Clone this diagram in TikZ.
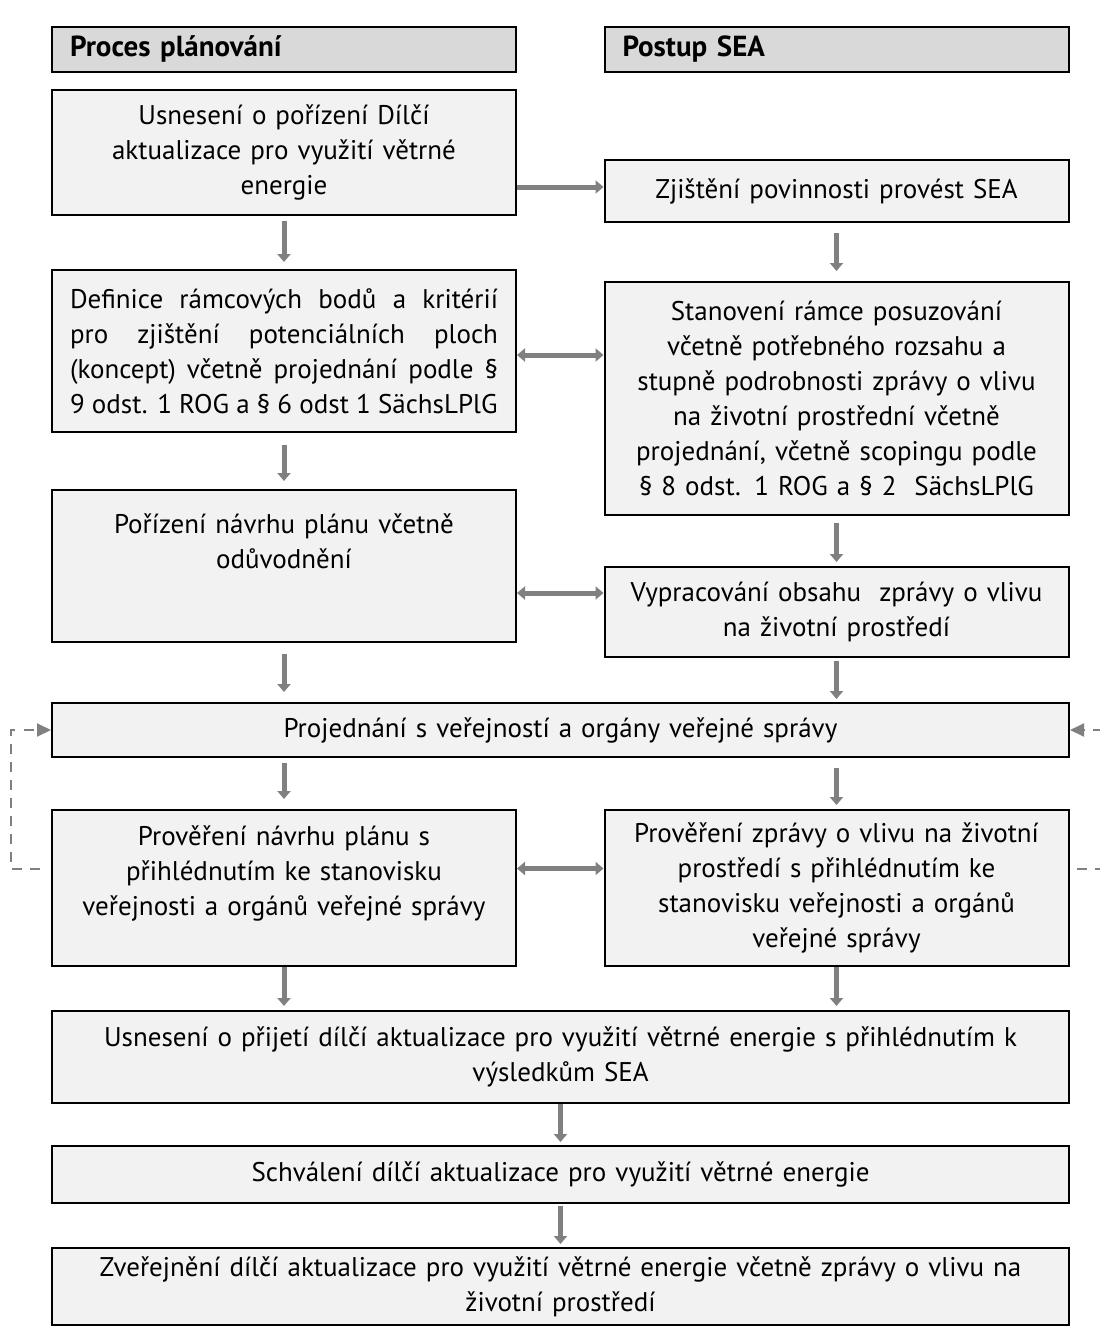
\documentclass[tikz,border=0pt]{standalone}
\usepackage{fontspec}
\setmainfont{PT Sans}
\usetikzlibrary{arrows.meta}
\definecolor{BoxFill}{RGB}{242,242,242}
\definecolor{HeadFill}{RGB}{217,217,217}
\definecolor{ArrowGray}{RGB}{128,128,128}
\tikzset{
  box/.style={draw=black, line width=1pt, fill=BoxFill, inner xsep=9pt, inner ysep=0pt,
    text width=#1, align=center, font=\fontsize{13.5}{17.5}\selectfont},
  box/.default=214pt,
  headbox/.style={box, fill=HeadFill, align=left, minimum height=22.5pt,
    font=\fontsize{14.5}{17.5}\selectfont\bfseries},
  flow/.style={draw=ArrowGray, line width=2.5pt, -{Triangle[width=6.5pt,length=4pt]}},
  both/.style={flow, {Triangle[width=6.5pt,length=4pt]}-{Triangle[width=6.5pt,length=4pt]}},
  feedback/.style={draw=ArrowGray, line width=1pt, dash pattern=on 5pt off 4pt,
    -{Triangle[width=6.5pt,length=7pt]}}
}

\begin{document}
\begin{tikzpicture}[x=0.5pt,y=-0.5pt]
    \useasboundingbox (0,0) rectangle (1099,1333);
    %%Headers
    \node[headbox] (hdrplan) at (284,49) {Proces plánování};
    \node[headbox] (hdrsea) at (836.5,49) {Postup SEA};
    %%Planning column and SEA column
    \node[box, minimum height=62.5pt] (usn) at (284,152.5)
      {Usnesení o pořízení Dílčí\\aktualizace pro využití větrné\\energie};
    \node[box, minimum height=31pt] (zji) at (836.5,191)
      {Zjištění povinnosti provést SEA};
    \node[box, align=justify, minimum height=81pt] (def) at (284,351)
      {Definice rámcových bodů a kritérií\linebreak pro zjištění potenciálních ploch\linebreak (koncept) včetně projednání podle §\linebreak 9 odst. 1 ROG a § 6 odst 1 SächsLPlG};
    \node[box, minimum height=116.5pt] (sta) at (836.5,398.5)
      {Stanovení rámce posuzování\\včetně potřebného rozsahu a\\stupně podrobnosti zprávy o vlivu\\na životní prostřední včetně\\projednání, včetně scopingu podle\\§ 8 odst. 1 ROG a § 2\ \ SächsLPlG};
    \node[box, minimum height=76pt] (por) at (284,566)
      {Pořízení návrhu plánu včetně\\odůvodnění\\[7.5pt]~};
    \node[box, minimum height=45pt] (vyp) at (836.5,612)
      {Vypracování obsahu\ \ zprávy o vlivu\\na životní prostředí};
    %%Joint steps
    \node[box=490.5pt, minimum height=27pt] (proj) at (560.5,730)
      {Projednání s veřejností a orgány veřejné správy};
    \node[box, minimum height=78pt] (provplan) at (284,888)
      {Prověření návrhu plánu s\\přihlédnutím ke stanovisku\\veřejnosti a orgánů veřejné správy\\~};
    \node[box, minimum height=78pt] (provsea) at (836.5,888)
      {Prověření zprávy o vlivu na životní\\prostředí s přihlédnutím ke\\stanovisku veřejnosti a orgánů\\veřejné správy};
    \node[box=490.5pt, minimum height=46pt] (prijeti) at (560.5,1057)
      {Usnesení o přijetí dílčí aktualizace pro využití větrné energie s přihlédnutím k\\výsledkům SEA};
    \node[box=490.5pt, minimum height=28.5pt] (schval) at (560.5,1174.5)
      {Schválení dílčí aktualizace pro využití větrné energie};
    \node[box=490.5pt, minimum height=38.5pt] (zverej) at (560.5,1286.5)
      {Zveřejnění dílčí aktualizace pro využití větrné energie včetně zprávy o vlivu na\\životní prostředí};
    %%Arrows down
    \draw[flow, shorten <=2.5pt, shorten >=3.5pt] (usn) -- (def);
    \draw[flow, shorten <=5pt, shorten >=5pt] (zji) -- (sta);
    \draw[flow, shorten <=6pt, shorten >=4pt] (def) -- (por);
    \draw[flow, shorten <=3.5pt, shorten >=2pt] (sta) -- (vyp);
    \draw[flow, shorten <=5.5pt, shorten >=5pt] (por.south) -- (por.south |- proj.north);
    \draw[flow, shorten <=1.5pt, shorten >=1.5pt] (vyp.south) -- (vyp.south |- proj.north);
    \draw[flow, shorten <=2.5pt, shorten >=5pt] (provplan.north |- proj.south) -- (provplan.north);
    \draw[flow, shorten <=5pt, shorten >=2pt] (provsea.north |- proj.south) -- (provsea.north);
    \draw[flow, shorten >=2pt] (provplan.south) -- (provplan.south |- prijeti.north);
    \draw[flow, shorten >=2pt] (provsea.south) -- (provsea.south |- prijeti.north);
    \draw[flow, shorten >=1.5pt] (prijeti) -- (schval);
    \draw[flow, shorten <=1pt, shorten >=1.5pt] (schval) -- (zverej);
    %%Arrows across
    \draw[flow] (usn.east |- zji.west) ++(0,-4) -- ([yshift=2pt]zji.west);
    \draw[both] ([yshift=-2pt]def.east) -- ([yshift=-2pt]def.east -| sta.west);
    \draw[both] ([yshift=9.5pt]vyp.west -| por.east) -- ([yshift=9.5pt]vyp.west);
    \draw[both] ([yshift=9.75pt]provplan.east) -- ([yshift=9.75pt]provsea.west);
    %%Feedback
    \draw[feedback, shorten <=5.5pt] ([yshift=9.75pt]provplan.west) -- ++(-40,0) |- (proj.west);
    \draw[feedback, shorten <=3.5pt] ([yshift=9.75pt]provsea.east) -- ++(50,0) |- (proj.east);
\end{tikzpicture}
\end{document}
